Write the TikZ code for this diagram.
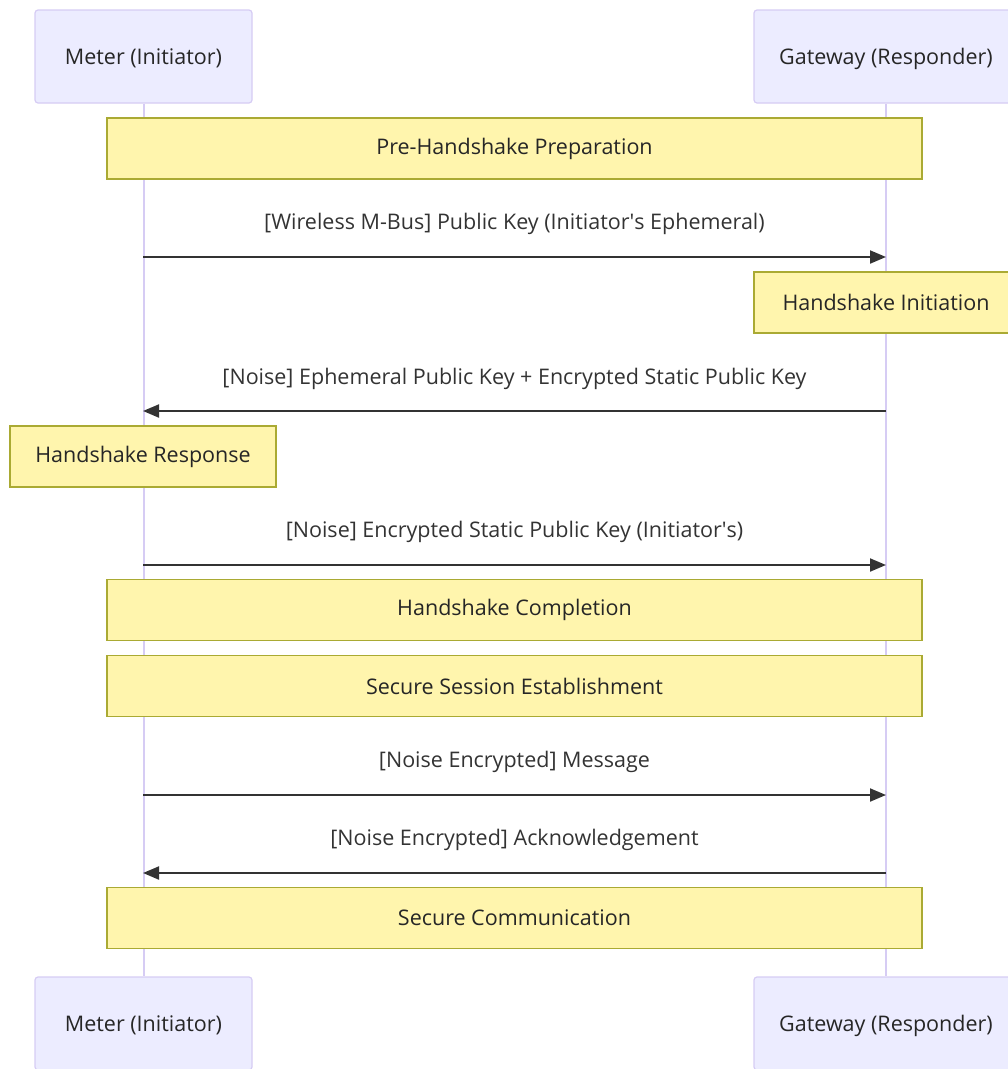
\documentclass[tikz,border=0pt]{standalone}
\usepackage{fontspec}
\setmainfont{Open Sans}
\usetikzlibrary{arrows.meta}
\definecolor{actorfill}{HTML}{ECECFF}
\definecolor{actorline}{HTML}{D6CCF4}
\definecolor{notefill}{HTML}{FFF5AD}
\definecolor{noteline}{HTML}{AAAA33}
\definecolor{msgink}{HTML}{333333}
\tikzset{
  actor/.style={draw=actorline, fill=actorfill, line width=1.2pt, rounded corners=3pt,
    minimum height=93pt, inner sep=0pt, text depth=0pt,
    font=\fontsize{21.5}{25}\selectfont, text=black!85},
  lifeline/.style={draw=actorline, line width=2pt},
  note/.style={draw=noteline, fill=notefill, line width=1.2pt, minimum height=61pt,
    inner sep=0pt, font=\fontsize{21.5}{25}\selectfont, text=black!85},
  msg/.style={draw=msgink, line width=2pt, -{Triangle[length=16pt,width=13pt]}},
  msglabel/.style={font=\fontsize{21.5}{25}\selectfont, text=msgink, inner sep=0pt}
}
\begin{document}
\begin{tikzpicture}[x=1pt,y=-1pt]
\useasboundingbox (0,0) rectangle (1008,1069);
\clip (0,0) rectangle (1008,1069);

% participants, top and bottom
\node[actor, minimum width=217pt] (meterT) at (143.5,56.5) {Meter (Initiator)};
\node[actor, minimum width=264pt] (gwT) at (886,56.5) {Gateway (Responder)};
\node[actor, minimum width=217pt] (meterB) at (143.5,1023.5) {Meter (Initiator)};
\node[actor, minimum width=264pt] (gwB) at (886,1023.5) {Gateway (Responder)};

% lifelines
\draw[lifeline] (meterT.south) -- (meterB.north);
\draw[lifeline] (gwT.south) -- (gwB.north);

% notes
\node[note, minimum width=815pt] (prep) at (514.5,148.5) {Pre-Handshake Preparation};
\node[note, minimum width=264pt] (init) at (886,302.5) {Handshake Initiation};
\node[note, minimum width=266pt] (resp) at (143,456.5) {Handshake Response};
\node[note, minimum width=815pt] (compl) at (514.5,610) {Handshake Completion};
\node[note, minimum width=815pt] (sess) at (514.5,686) {Secure Session Establishment};
\node[note, minimum width=815pt] (comm) at (514.5,918) {Secure Communication};

% message end points on the lifelines
\coordinate (m1a) at (143,257); \coordinate (m1b) at (886,257);
\coordinate (m2a) at (886,411); \coordinate (m2b) at (143,411);
\coordinate (m3a) at (143,565); \coordinate (m3b) at (886,565);
\coordinate (m4a) at (143,795); \coordinate (m4b) at (886,795);
\coordinate (m5a) at (886,873); \coordinate (m5b) at (143,873);

% messages
\draw[msg] (m1a) -- (m1b);
\node[msglabel] (l1) at (514.5,224) {[Wireless M-Bus] Public Key (Initiator\textquotesingle s Ephemeral)};
\draw[msg] (m2a) -- (m2b);
\node[msglabel] (l2) at (514.5,379) {[Noise] Ephemeral Public Key + Encrypted Static Public Key};
\draw[msg] (m3a) -- (m3b);
\node[msglabel] (l3) at (514.5,532) {[Noise] Encrypted Static Public Key (Initiator\textquotesingle s)};
\draw[msg] (m4a) -- (m4b);
\node[msglabel] (l4) at (514.5,762) {[Noise Encrypted] Message};
\draw[msg] (m5a) -- (m5b);
\node[msglabel] (l5) at (514.5,840) {[Noise Encrypted] Acknowledgement};
\end{tikzpicture}
\end{document}
